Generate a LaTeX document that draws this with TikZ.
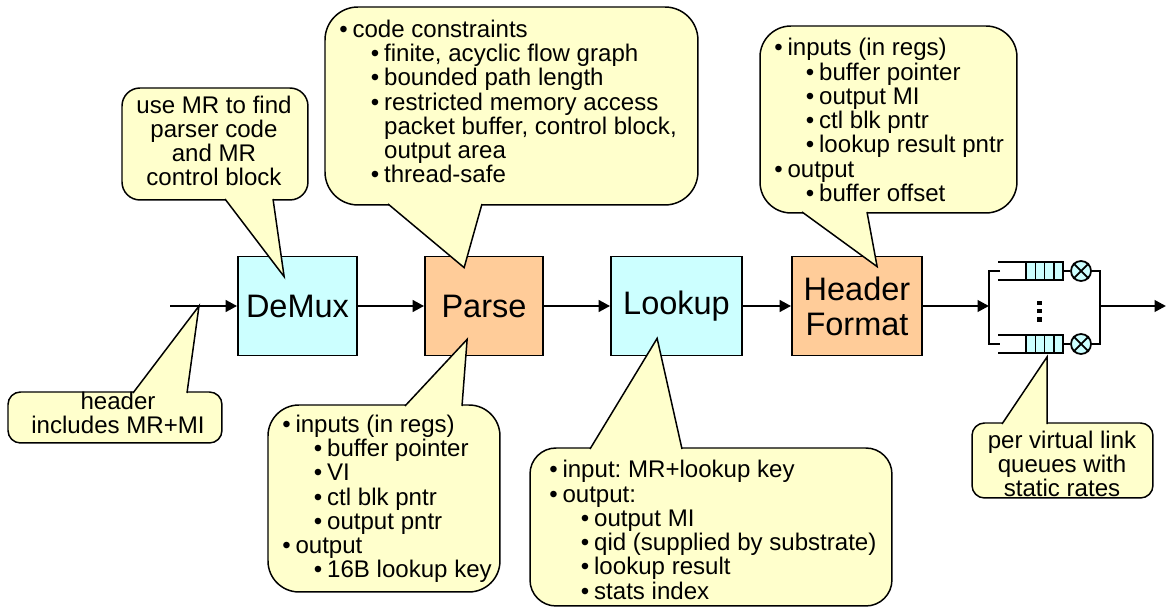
\documentclass[tikz,border=0pt]{standalone}
\usepackage{fontspec}
\setmainfont{Liberation Sans}
\usepackage{tikz}
\usetikzlibrary{arrows.meta,calc}

\definecolor{boxcyan}{HTML}{CCFFFF}
\definecolor{boxpeach}{HTML}{FFCC99}
\definecolor{notefill}{HTML}{FFFFCC}

\frenchspacing
\newcommand{\bl}{\makebox[7.5pt][l]{\textbullet}}
\newcommand{\sbl}{\hspace*{18pt}\bl}
\newcommand{\cnt}{\hspace*{25.5pt}}

\begin{document}
\begin{tikzpicture}[x=0.02cm, y=-0.02cm,
        stage/.style = {draw, line width=1pt, minimum height=1.98cm, inner sep=0pt,
                        font=\fontsize{18.5}{19.8}\selectfont, align=center},
        note/.style = {draw, fill=notefill, line width=0.85pt, anchor=north west,
                       inner sep=0pt, outer sep=0pt},
        notetext/.style = {inner sep=0pt, font=\fontsize{13.7}{13.8}\selectfont},
        pointer/.style = {draw, fill=notefill, line width=0.85pt},
        flow/.style = {line width=1.5pt, -{Triangle[length=6.5pt,width=6.5pt]}},
        qline/.style = {line width=1pt},
        server/.style = {circle, draw, fill=boxcyan, line width=1pt, minimum size=0.4cm, inner sep=0pt}
    ]
    \useasboundingbox (0,0) rectangle (1167,608);

    % pipeline
    \node[stage, fill=boxcyan, minimum width=2.38cm] (demux) at (297.5,306) {DeMux};
    \node[stage, fill=boxpeach, minimum width=2.36cm] (parse) at (484,306) {Parse};
    \node[stage, fill=boxcyan, minimum width=2.62cm] (lookup) at (676.5,306) {Lookup};
    \node[stage, fill=boxpeach, minimum width=2.6cm] (hformat) at (857,306) {Header\\Format};

    \coordinate (in) at (170,306);
    \coordinate (qin) at (989,306);
    \coordinate (qout) at (1100,306);
    \coordinate (out) at (1166,306);

    \draw[flow] (in) -- (demux);
    \draw[flow] (demux) -- (parse);
    \draw[flow] (parse) -- (lookup);
    \draw[flow] (lookup) -- (hformat);
    \draw[flow] (hformat) -- (qin);

    % link queues
    \foreach \q/\y in {1/271, 2/344} {
        \draw[qline] (998,\y-9) -- (1063,\y-9) (998,\y+9) -- (1063,\y+9);
        \filldraw[qline, fill=boxcyan] (1026,\y-9) rectangle (1063,\y+9);
        \foreach \x in {1035.3,1044.5,1053.8} \draw[line width=0.8pt] (\x,\y-9) -- (\x,\y+9);
        \node[server] (srv\q) at (1081,\y) {};
        \draw[qline] (srv\q.45) -- (srv\q.225) (srv\q.135) -- (srv\q.315);
        \draw[qline] (1063,\y) -- (srv\q);
    }
    \draw[qline] (1000,271) -| (qin) |- (1000,344);
    \draw[qline] (srv1) -| (qout) |- (srv2);
    \foreach \y in {303,311,319.5} \fill (1037,\y-2.2) rectangle (1041.5,\y+2.2);
    \draw[flow] (qout) -- (out);

    % callouts
    \coordinate (tipIn) at ($(in)+(29,0)$);
    \coordinate (tipDemux) at ($(demux.north west)+(47,21)$);
    \coordinate (tipParse) at ($(parse.north west)+(40,12)$);
    \coordinate (tipParseIn) at ($(parse.south west)+(43,-17)$);
    \coordinate (tipLookup) at ($(lookup.south west)+(47,-18)$);
    \coordinate (tipFormat) at ($(hformat.north west)+(86,11)$);
    \coordinate (tipQueue) at ($(srv2)+(-34,13)$);

    \node[note, rounded corners=0.25cm, minimum width=4.28cm, minimum height=1.02cm] (nIn) at (8,392) {};
    \path[pointer] ($(nIn.north west)+(125,1)$) -- (tipIn) -- ($(nIn.north west)+(179,1)$);
    \node[notetext, align=center] (tIn) at (118,413) {header\\includes MR+MI};

    \node[note, rounded corners=0.36cm, minimum width=3.72cm, minimum height=2.24cm] (nDemux) at (122,88) {};
    \path[pointer] ($(nDemux.south west)+(103,-1)$) -- (tipDemux) -- ($(nDemux.south west)+(151,-1)$);
    \node[notetext, align=center] (tDemux) at (214,141) {use MR to find\\parser code\\and MR\\control block};

    \node[note, rounded corners=0.66cm, minimum width=7.46cm, minimum height=3.96cm] (nParse) at (325,7) {};
    \path[pointer] ($(nParse.south west)+(63,-1)$) -- (tipParse) -- ($(nParse.south west)+(157,-1)$);
    \node[notetext, align=left, anchor=west] (tParse) at (339,101.5) {\bl code constraints\\
        \sbl finite, acyclic flow graph\\
        \sbl bounded path length\\
        \sbl restricted memory access\\
        \cnt packet buffer, control block,\\
        \cnt output area\\
        \sbl thread-safe};

    \node[note, rounded corners=0.62cm, minimum width=4.64cm, minimum height=3.74cm] (nParseIn) at (268,405) {};
    \path[pointer] ($(nParseIn.north west)+(137,1)$) -- (tipParseIn) -- ($(nParseIn.north west)+(194,1)$);
    \node[notetext, align=left, anchor=west] (tParseIn) at (282,499) {\bl inputs (in regs)\\
        \sbl buffer pointer\\
        \sbl VI\\
        \sbl ctl blk pntr\\
        \sbl output pntr\\
        \bl output\\
        \sbl 16B lookup key};

    \node[note, rounded corners=0.52cm, minimum width=7.24cm, minimum height=3.16cm] (nLookup) at (530,448) {};
    \path[pointer] ($(nLookup.north west)+(60,1)$) -- (tipLookup) -- ($(nLookup.north west)+(152,1)$);
    \node[notetext, align=left, anchor=west] (tLookup) at (549,530) {\bl input: MR+lookup key\\
        \bl output:\\
        \sbl output MI\\
        \sbl qid (supplied by substrate)\\
        \sbl lookup result\\
        \sbl stats index};

    \node[note, rounded corners=0.62cm, minimum width=5.14cm, minimum height=3.74cm] (nFormat) at (760,26) {};
    \path[pointer] ($(nFormat.south west)+(42,-1)$) -- (tipFormat) -- ($(nFormat.south west)+(107,-1)$);
    \node[notetext, align=left, anchor=west] (tFormat) at (774,120) {\bl inputs (in regs)\\
        \sbl buffer pointer\\
        \sbl output MI\\
        \sbl ctl blk pntr\\
        \sbl lookup result pntr\\
        \bl output\\
        \sbl buffer offset};

    \node[note, rounded corners=0.25cm, minimum width=3.62cm, minimum height=1.5cm] (nQueue) at (972,423) {};
    \path[pointer] ($(nQueue.north west)+(30,1)$) -- (tipQueue) -- ($(nQueue.north west)+(75,1)$);
    \node[notetext, align=center] (tQueue) at (1062,464) {per virtual link\\queues with\\static rates};
\end{tikzpicture}
\end{document}
